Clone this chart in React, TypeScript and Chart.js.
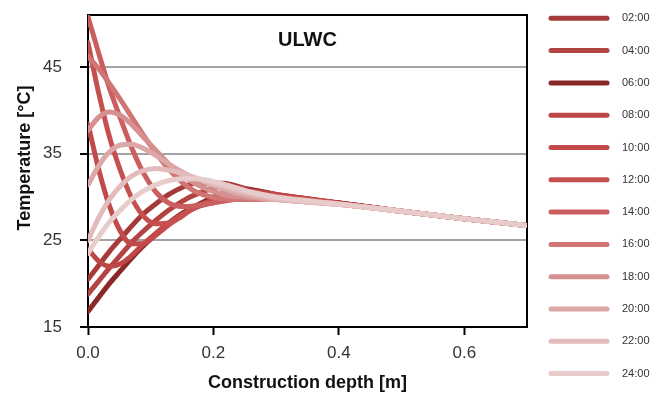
import React, { useEffect, useRef } from "react";
import { Chart, registerables } from "chart.js";

Chart.register(...registerables);

// Construction depth [m] at which temperatures are read
const depthM = [0, 0.017, 0.034, 0.052, 0.069, 0.086, 0.108, 0.129, 0.15, 0.172, 0.215, 0.258, 0.3, 0.4, 0.5, 0.6, 0.7];

const hourLabels = ["02:00", "04:00", "06:00", "08:00", "10:00", "12:00", "14:00", "16:00", "18:00", "20:00", "22:00", "24:00"];

// Temperature [°C] profiles per hour
const temp0200 = [20.5, 22.1, 23.7, 25.2, 26.6, 27.9, 29.2, 30.3, 31.1, 31.6, 31.6, 30.8, 30.1, 29.3, 28.35, 27.5, 26.7];
const temp0400 = [18.8, 20.3, 21.8, 23.3, 24.7, 25.9, 27.3, 28.5, 29.5, 30.3, 31.2, 30.9, 30.2, 29.3, 28.35, 27.5, 26.7];
const temp0600 = [16.8, 18.4, 20.0, 21.5, 22.9, 24.2, 25.7, 27.0, 28.1, 29.0, 30.4, 30.8, 30.3, 29.3, 28.35, 27.5, 26.7];
const temp0800 = [24.0, 22.6, 22.0, 22.3, 23.2, 24.4, 25.8, 27.0, 28.0, 28.8, 30.1, 30.7, 30.3, 29.3, 28.35, 27.5, 26.7];
const temp1000 = [38.4, 33.2, 29.0, 26.0, 24.6, 24.6, 25.6, 26.8, 27.8, 28.9, 29.9, 30.4, 30.2, 29.25, 28.35, 27.5, 26.7];
const temp1200 = [47.8, 42.0, 37.0, 33.0, 30.0, 28.0, 26.9, 27.0, 27.9, 28.8, 29.6, 30.1, 30.0, 29.2, 28.35, 27.5, 26.7];
const temp1400 = [50.8, 46.6, 42.6, 39.0, 35.8, 33.1, 30.6, 29.3, 28.9, 29.0, 29.5, 29.9, 29.9, 29.2, 28.35, 27.5, 26.7];
const temp1600 = [46.2, 44.8, 43.1, 41.2, 39.3, 37.4, 35.1, 33.2, 31.7, 30.6, 29.8, 29.7, 29.8, 29.2, 28.35, 27.5, 26.7];
const temp1800 = [37.7, 39.2, 39.8, 39.4, 38.4, 37.1, 35.4, 33.8, 32.5, 31.5, 30.3, 29.9, 29.7, 29.15, 28.35, 27.5, 26.7];
const temp2000 = [31.4, 33.6, 35.2, 36.0, 36.1, 35.7, 34.8, 33.8, 32.9, 32.1, 30.9, 30.1, 29.7, 29.15, 28.35, 27.5, 26.7];
const temp2200 = [25.0, 27.6, 29.7, 31.3, 32.4, 33.0, 33.3, 33.1, 32.7, 32.2, 31.2, 30.4, 29.8, 29.15, 28.35, 27.5, 26.7];
const temp2400 = [23.5, 25.4, 27.1, 28.5, 29.7, 30.6, 31.4, 31.9, 32.1, 32.1, 31.5, 30.6, 30.0, 29.2, 28.35, 27.5, 26.7];

const seriesValues = [temp0200, temp0400, temp0600, temp0800, temp1000, temp1200, temp1400, temp1600, temp1800, temp2000, temp2200, temp2400];

const seriesColors = ["#a63a3a", "#b44343", "#8a2828", "#bd4646", "#c24a4a", "#c65050", "#cb5e5e", "#d07474", "#d69090", "#dca7a7", "#e2bcbc", "#e8cccc"];

const yTickValues = [15, 25, 35, 45];
const xTickValues = [0, 0.2, 0.4, 0.6];

const chartTitle = "ULWC";
const xAxisTitle = "Construction depth [m]";
const yAxisTitle = "Temperature [°C]";

const FONT = "'Liberation Sans', Arial, Helvetica, sans-serif";

export default function App() {
  const canvasRef = useRef<HTMLCanvasElement | null>(null);

  useEffect(() => {
    document.body.style.margin = "0";
    const canvas = canvasRef.current;
    if (!canvas) return;

    const framePlugin = {
      id: "frameAndLegend",
      beforeDatasetsDraw(chart: any) {
        const { ctx, chartArea } = chart;
        ctx.save();
        ctx.strokeStyle = "#000";
        ctx.lineWidth = 2;
        ctx.strokeRect(chartArea.left, chartArea.top, chartArea.right - chartArea.left, chartArea.bottom - chartArea.top);
        ctx.restore();
      },
      afterDatasetsDraw(chart: any) {
        const { ctx, chartArea } = chart;
        ctx.save();
        ctx.fillStyle = "#111";
        ctx.font = `bold 20px ${FONT}`;
        ctx.textAlign = "center";
        ctx.textBaseline = "middle";
        ctx.fillText(chartTitle, (chartArea.left + chartArea.right) / 2, chartArea.top + 25);
        // y axis title
        ctx.translate(25, chartArea.top + 143);
        ctx.rotate(-Math.PI / 2);
        ctx.font = `bold 18px ${FONT}`;
        ctx.fillText(yAxisTitle, 0, 0);
        ctx.restore();
      },
      afterDraw(chart: any) {
        const { ctx, chartArea } = chart;
        const x0 = chartArea.right + 24;
        const x1 = x0 + 56;
        const top = 18.3;
        const step = 32.3;
        ctx.save();
        chart.data.datasets.forEach((ds: any, i: number) => {
          const y = top + i * step;
          ctx.strokeStyle = ds.borderColor;
          ctx.lineWidth = 5;
          ctx.lineCap = "round";
          ctx.beginPath();
          ctx.moveTo(x0, y);
          ctx.lineTo(x1, y);
          ctx.stroke();
          ctx.fillStyle = "#333";
          ctx.font = `11px ${FONT}`;
          ctx.textAlign = "left";
          ctx.textBaseline = "middle";
          ctx.fillText(ds.label, x1 + 15, y);
        });
        ctx.restore();
      },
    };

    const chart = new Chart(canvas, {
      type: "line",
      data: {
        datasets: seriesValues.map((vals, i) => ({
          label: hourLabels[i],
          data: vals.map((t, k) => ({ x: depthM[k], y: t })),
          borderColor: seriesColors[i],
          backgroundColor: seriesColors[i],
          borderWidth: 5,
          pointRadius: 0,
          fill: false,
          cubicInterpolationMode: "monotone" as const,
          borderCapStyle: "round" as const,
          borderJoinStyle: "round" as const,
          order: seriesValues.length - 1 - i,
        })),
      },
      options: {
        responsive: false,
        animation: false,
        devicePixelRatio: 1,
        layout: { padding: { top: 15, right: 135, left: 0, bottom: 0 } },
        plugins: {
          legend: { display: false },
          tooltip: { enabled: false },
        },
        scales: {
          x: {
            type: "linear",
            min: 0,
            max: 0.7,
            afterFit: (s: any) => {
              s.height = 74;
              s.paddingLeft = 0;
              s.paddingRight = 0;
            },
            afterBuildTicks: (s: any) => {
              s.ticks = xTickValues.map((v) => ({ value: v }));
            },
            ticks: {
              callback: (v: any) => Number(v).toFixed(1),
              color: "#333",
              font: { family: FONT, size: 17 },
              padding: 8,
              maxRotation: 0,
            },
            grid: {
              drawOnChartArea: false,
              color: "#000",
              tickColor: "#000",
              tickLength: 8,
              tickWidth: 2,
            },
            border: { color: "#000", width: 2 },
            title: {
              display: true,
              text: xAxisTitle,
              color: "#111",
              font: { family: FONT, size: 18, weight: "bold" },
              padding: { top: 0, bottom: 7 },
            },
          },
          y: {
            type: "linear",
            min: 15,
            max: 51,
            afterFit: (s: any) => {
              s.width = 88;
              s.paddingTop = 0;
              s.paddingBottom = 0;
            },
            afterBuildTicks: (s: any) => {
              s.ticks = yTickValues.map((v) => ({ value: v }));
            },
            ticks: {
              color: "#333",
              font: { family: FONT, size: 17 },
              padding: 18,
            },
            grid: {
              color: (c: any) => (c.tick && c.tick.value === 15 ? "rgba(0,0,0,0)" : "#a3a3a3"),
              lineWidth: 2,
              tickColor: "#000",
              tickLength: 8,
              tickWidth: 2,
            },
            border: { color: "#000", width: 2 },
          },
        },
      },
      plugins: [framePlugin],
    });

    return () => {
      chart.destroy();
    };
  }, []);

  return (
    <div style={{ position: "absolute", left: 0, top: 0, width: 662, height: 401, background: "#fff" }}>
      <canvas ref={canvasRef} width={662} height={401} style={{ width: 662, height: 401, display: "block" }} />
    </div>
  );
}
